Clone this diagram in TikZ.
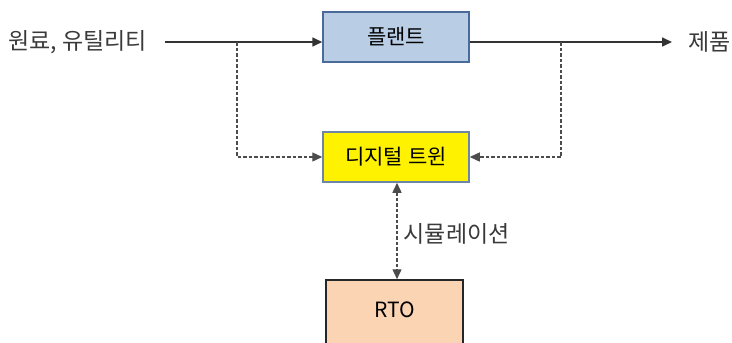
\documentclass[tikz,border=0pt]{standalone}
\usepackage{fontspec}
\setmainfont{Noto Sans CJK KR}
\usetikzlibrary{arrows.meta}
\definecolor{plantfill}{HTML}{B9CDE5}
\definecolor{plantdraw}{HTML}{4A6A9C}
\definecolor{twindraw}{HTML}{6D86A8}
\definecolor{rtofill}{HTML}{FBD4B4}
\definecolor{labelgray}{HTML}{3A3A3A}
\tikzset{
  box/.style={draw, line width=1.5pt, inner sep=0pt, font=\fontsize{21}{23}\selectfont},
  solidarrow/.style={line width=1.6pt, draw=black!80, -{Triangle[length=10pt,width=9pt]}},
  dasharrow/.style={line width=1.4pt, draw=black!70, dash pattern=on 3.5pt off 2pt, -{Triangle[length=10pt,width=9pt]}},
  lbl/.style={text=labelgray, font=\fontsize{23}{25}\selectfont, inner sep=0pt}
}
\begin{document}
\begin{tikzpicture}[x=1pt,y=-1pt]
\useasboundingbox (0,0) rectangle (732,343);
\clip (0,0) rectangle (732,343);
\node[box, fill=plantfill, draw=plantdraw, minimum width=146pt, minimum height=50pt] (plant) at (396,37) {플랜트};
\node[box, fill=yellow, draw=twindraw, minimum width=146pt, minimum height=50pt] (twin) at (396,157) {디지털 트윈};
\node[box, fill=rtofill, draw=black!85, minimum width=137pt, minimum height=70pt] (rto) at (394.5,315) {};
\node[font=\fontsize{21}{23}\selectfont, inner sep=0pt] (rtotext) at (394.5,310) {RTO};
\node[lbl, anchor=west] (in) at (8,42) {원료, 유틸리티};
\node[lbl, anchor=west] (out) at (688,42) {제품};
\coordinate (instart) at (165,42);
\coordinate (b1) at (237,42);
\coordinate (b2) at (561,42);
\coordinate (outend) at (672,42);
\draw[solidarrow] (instart) -- (instart -| plant.west);
\draw[solidarrow] (b2 -| plant.east) -- (outend);
\draw[dasharrow] (b1) |- (twin.west);
\draw[dasharrow] (b2) |- (twin.east);
\draw[dasharrow, {Triangle[length=10pt,width=9pt]}-{Triangle[length=10pt,width=9pt]}] (twin.south -| 397,0) -- (rto.north -| 397,0) node[midway, lbl, anchor=west, xshift=6pt, yshift=-3pt] (sim) {시뮬레이션};
\end{tikzpicture}
\end{document}
